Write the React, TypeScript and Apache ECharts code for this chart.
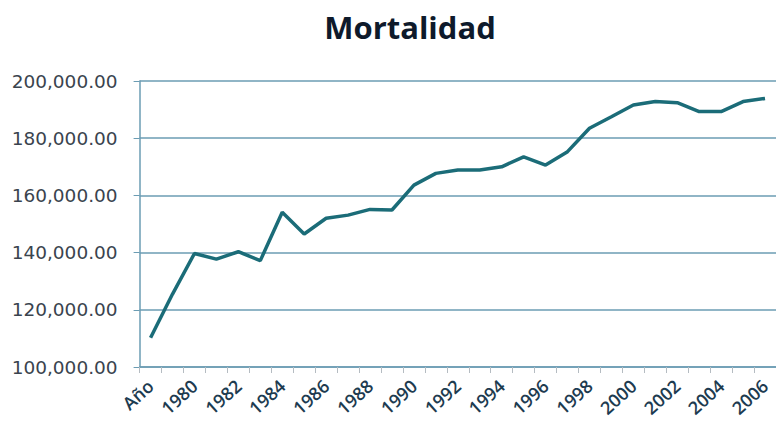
import React, { useEffect, useRef } from "react";
import * as echarts from "echarts";

const categories = [
  "Año", "1979", "1980", "1981", "1982", "1983", "1984", "1985", "1986", "1987",
  "1988", "1989", "1990", "1991", "1992", "1993", "1994", "1995", "1996", "1997",
  "1998", "1999", "2000", "2001", "2002", "2003", "2004", "2005", "2006",
];

const mortalidad = [
  110200, 125500, 139700, 137700, 140300, 137200, 154100, 146500, 152000, 153100,
  155100, 154900, 163600, 167700, 168900, 168900, 170000, 173500, 170600, 175300,
  183500, 187500, 191600, 192800, 192400, 189300, 189300, 192800, 193900,
];

const yMin = 100000;
const yMax = 200000;
const yInterval = 20000;

export default function App() {
  const ref = useRef<HTMLDivElement>(null);

  useEffect(() => {
    if (!ref.current) return;
    const chart = echarts.init(ref.current, null, { renderer: "svg" });
    chart.setOption({
      animation: false,
      backgroundColor: "#ffffff",
      title: {
        text: "Mortalidad",
        left: 405,
        top: 6,
        textAlign: "center",
        textStyle: {
          fontFamily: "Open Sans",
          fontWeight: "bold",
          fontSize: 31,
          color: "#0e1a2b",
        },
      },
      grid: {
        left: 139.6,
        top: 81,
        width: 643.2,
        height: 286,
        containLabel: false,
      },
      xAxis: {
        type: "category",
        data: categories,
        boundaryGap: true,
        axisLine: { show: true, lineStyle: { color: "#6b9cb3", width: 1.5 } },
        axisTick: {
          show: true,
          interval: 0,
          length: 6,
          lineStyle: { color: "#b5bcc2", width: 1 },
        },
        axisLabel: {
          interval: 1,
          rotate: 42,
          margin: 16,
          fontFamily: "Open Sans",
          fontWeight: 600,
          fontSize: 18,
          color: "#1d3b50",
        },
        splitLine: { show: false },
      },
      yAxis: {
        type: "value",
        min: yMin,
        max: yMax,
        interval: yInterval,
        axisLine: { show: true, lineStyle: { color: "#6b9cb3", width: 1.5 } },
        axisTick: { show: true, length: 6, lineStyle: { color: "#6b9cb3", width: 1 } },
        axisLabel: {
          margin: 22,
          fontFamily: "DejaVu Sans",
          fontSize: 18.5,
          color: "#3a444e",
          formatter: (v: number) =>
            v.toLocaleString("en-US", { minimumFractionDigits: 2, maximumFractionDigits: 2 }),
        },
        splitLine: { show: true, lineStyle: { color: "#6b9cb3", width: 1.5 } },
      },
      series: [
        {
          type: "line",
          data: mortalidad,
          symbol: "none",
          lineStyle: { color: "#1b6c78", width: 3.5 },
          itemStyle: { color: "#1b6c78" },
        },
      ],
    });
    return () => chart.dispose();
  }, []);

  return (
    <div
      ref={ref}
      style={{ position: "fixed", left: 0, top: 0, width: 776, height: 435, background: "#fff" }}
    />
  );
}
